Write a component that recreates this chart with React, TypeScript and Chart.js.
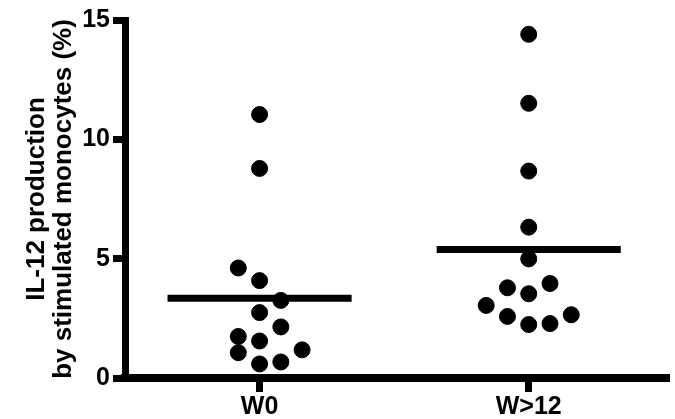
import React, { useEffect, useRef } from "react";
import { Chart, registerables } from "chart.js";

Chart.register(...registerables);

const categories = ["W0", "W>12"];
const yTicks = [0, 5, 10, 15];
const w0Values = [11.04, 8.78, 4.61, 4.08, 3.25, 2.74, 2.14, 1.74, 1.55, 1.06, 1.18, 0.59, 0.67];
const w0Slots = [0, 0, -1, 0, 1, 0, 1, -1, 0, -1, 2, 0, 1];
const w12Values = [14.4, 11.51, 8.67, 6.32, 4.99, 3.96, 3.78, 3.53, 3.04, 2.65, 2.58, 2.24, 2.28];
const w12Slots = [0, 0, 0, 0, 0, 1, -1, 0, -2, 2, -1, 0, 1];
const means = [3.34, 5.38];

const SLOT = 0.079;
const HALF = 0.342;
const FONT = "'Liberation Sans', Arial, Helvetica, sans-serif";

export default function App() {
  const ref = useRef<HTMLCanvasElement | null>(null);

  useEffect(() => {
    if (!ref.current) return;
    const groups = [
      { values: w0Values, slots: w0Slots },
      { values: w12Values, slots: w12Slots },
    ];
    const meanSets = means.map((m, i) => ({
      type: "scatter" as const,
      data: [
        { x: i - HALF, y: m },
        { x: i + HALF, y: m },
      ],
      showLine: true,
      borderColor: "#000",
      borderWidth: 7,
      borderCapStyle: "butt" as const,
      pointRadius: 0,
      pointHoverRadius: 0,
    }));
    const pointSets = groups.map((g, i) => ({
      type: "scatter" as const,
      data: g.values.map((v, j) => ({ x: i + g.slots[j] * SLOT, y: v })),
      backgroundColor: "#000",
      borderColor: "#000",
      borderWidth: 1,
      pointRadius: 8,
      pointHoverRadius: 8,
      showLine: false,
    }));

    const chart = new Chart(ref.current, {
      type: "scatter",
      data: { datasets: [...meanSets, ...pointSets] as any },
      options: {
        animation: false,
        responsive: false,
        events: [],
        layout: { padding: { top: 20, right: 8, left: 0, bottom: 0 } },
        plugins: { legend: { display: false }, tooltip: { enabled: false } },
        scales: {
          x: {
            type: "linear",
            min: -0.5,
            max: 1.51,
            afterBuildTicks: (axis: any) => {
              axis.ticks = categories.map((_, i) => ({ value: i }));
            },
            afterFit: (axis: any) => {
              axis.height = 41;
            },
            ticks: {
              callback: (v: any) => categories[Math.round(Number(v))],
              font: { family: FONT, size: 25, weight: "bold" },
              color: "#000",
              padding: 0,
              maxRotation: 0,
              autoSkip: false,
            },
            grid: {
              drawOnChartArea: false,
              drawTicks: true,
              tickLength: 14,
              tickWidth: 7,
              lineWidth: 7,
              tickColor: "#000",
              color: "#000",
            },
            border: { display: true, color: "#000", width: 8 },
          },
          y: {
            type: "linear",
            min: 0,
            max: 15,
            afterBuildTicks: (axis: any) => {
              axis.ticks = yTicks.map((v) => ({ value: v }));
            },
            afterFit: (axis: any) => {
              axis.width = 125;
            },
            ticks: {
              font: { family: FONT, size: 25, weight: "bold" },
              color: "#000",
              padding: 3,
            },
            grid: {
              drawOnChartArea: false,
              drawTicks: true,
              tickLength: 12,
              tickWidth: 7,
              lineWidth: 7,
              tickColor: "#000",
              color: "#000",
            },
            border: { display: true, color: "#000", width: 7 },
            title: {
              display: true,
              text: ["IL-12 production", "by stimulated monocytes (%)"],
              font: { family: FONT, size: 26, weight: "bold", lineHeight: 1.04 },
              color: "#000",
              padding: { top: 23, bottom: 0 },
            },
          },
        },
      },
    });
    return () => chart.destroy();
  }, []);

  return (
    <div style={{ position: "absolute", left: 0, top: 0, width: 675, height: 419, background: "#fff" }}>
      <canvas ref={ref} width={675} height={419} style={{ display: "block" }} />
    </div>
  );
}
